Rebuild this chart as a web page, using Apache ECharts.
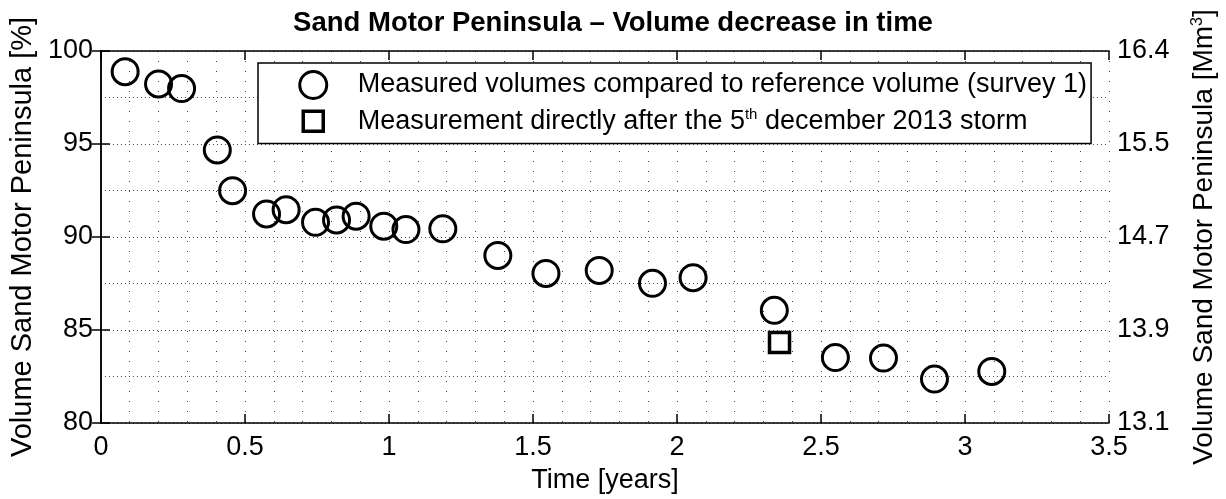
<!DOCTYPE html>
<html>
<head>
	<meta charset="utf-8">
	<title>Sand Motor Peninsula</title>
	<script src="https://cdn.jsdelivr.net/npm/echarts@6/dist/echarts.min.js"></script>
	<style>
		html,body{margin:0;padding:0;background:#fff;}
		#chart{width:1226px;height:499px;}
	</style>
</head>
<body>
	<div id="chart"></div>
<script type="text/javascript">
// measured volumes (survey 2..n) relative to survey 1
var timeYears=[0.084,0.20,0.28,0.404,0.457,0.575,0.643,0.745,0.818,0.886,0.982,1.059,1.187,
    1.378,1.545,1.730,1.915,2.056,2.338,2.55,2.717,2.894,3.093]
var volumePct=[98.89,98.23,97.98,94.68,92.49,91.24,91.47,90.79,90.92,91.12,90.58,90.40,90.44,
    89.01,88.04,88.20,87.51,87.81,86.06,83.52,83.49,82.36,82.77]
// survey right after the storm
var stormTime=[2.356]
var stormPct=[84.33]
// right axis labels (Mm3), same positions as 80..100 %
var rightTicks=['13.1','13.9','14.7','15.5','16.4']

var nameCircle='Measured volumes compared to reference volume (survey 1)'
var nameSquare='Measurement directly after the 5th december 2013 storm'

var font='Liberation Sans'
var dotV={color:'#444',width:1,type:[1,9]}
var dotH={color:'#444',width:1,type:[1,3]}
var axLine={lineStyle:{color:'#000',width:1.5}}
var tick={show:true,inside:true,length:9,lineStyle:{color:'#000',width:1.5}}

var option={
    animation:false,
    title:{
        text:'Sand Motor Peninsula \u2013 Volume decrease in time',
        left:'center',top:4,
        textStyle:{fontFamily:font,fontSize:27.5,fontWeight:'bold',color:'#000'}
    },
    legend:{
        orient:'vertical',left:258,top:63,
        padding:[7,4,7,40],itemGap:6,itemWidth:27,itemHeight:27,
        borderColor:'#000',borderWidth:1.5,backgroundColor:'#fff',
        textStyle:{fontFamily:font,fontSize:27,color:'#000',lineHeight:27,padding:[0,0,0,26],
            rich:{sup:{fontFamily:font,fontSize:15,lineHeight:15,verticalAlign:'top',color:'#000'}}},
        formatter:function(n){
            return n===nameSquare?'Measurement directly after the 5{sup|th} december 2013 storm':n
        },
        data:[
            {name:nameCircle,icon:'circle',itemStyle:{color:'rgba(0,0,0,0)',borderColor:'#000',borderWidth:3}},
            {name:nameSquare,icon:'path://M0,0M27,27M3.5,3.5L23.5,3.5L23.5,23.5L3.5,23.5Z',
                itemStyle:{color:'rgba(0,0,0,0)',borderColor:'#000',borderWidth:3.5}}
        ]
    },
    grid:{left:100,right:116,top:51,bottom:75},
    xAxis:[{
        type:'value',min:0,max:3.5,interval:0.5,position:'bottom',
        axisLine:axLine,axisTick:tick,
        axisLabel:{fontFamily:font,fontSize:27,color:'#000',margin:11},
        splitLine:{show:true,lineStyle:dotV},
        minorTick:{show:false,splitNumber:5},
        minorSplitLine:{show:true,lineStyle:dotV},
        name:'Time [years]',nameLocation:'middle',nameGap:44,
        nameTextStyle:{fontFamily:font,fontSize:27,color:'#000'}
    },{
        type:'value',min:0,max:3.5,interval:0.5,position:'top',
        axisLine:axLine,axisTick:tick,axisLabel:{show:false},splitLine:{show:false}
    }],
    yAxis:[{
        type:'value',min:80,max:100,interval:5,position:'left',
        axisLine:axLine,axisTick:tick,
        axisLabel:{fontFamily:font,fontSize:27,color:'#000',margin:8},
        splitLine:{show:true,lineStyle:dotH},
        minorTick:{show:false,splitNumber:2},
        minorSplitLine:{show:true,lineStyle:dotH},
        name:'Volume Sand Motor Peninsula [%]',nameLocation:'middle',nameGap:63,nameRotate:90,
        nameTextStyle:{fontFamily:font,fontSize:29,color:'#000'}
    },{
        type:'value',min:80,max:100,interval:5,position:'right',
        axisLine:axLine,axisTick:tick,splitLine:{show:false},
        axisLabel:{fontFamily:font,fontSize:27,color:'#000',margin:8,
            formatter:function(v){return rightTicks[Math.round((v-80)/5)]}},
        name:'Volume Sand Motor Peninsula [Mm{sup|3}]',nameLocation:'middle',nameGap:81,nameRotate:90,
        nameTextStyle:{fontFamily:font,fontSize:28,color:'#000',
            rich:{sup:{fontFamily:font,fontSize:16,lineHeight:16,verticalAlign:'top',color:'#000'}}}
    }],
    series:[{
        name:nameCircle,type:'scatter',symbol:'circle',symbolSize:26,
        itemStyle:{color:'rgba(0,0,0,0)',borderColor:'#000',borderWidth:3,opacity:1},
        emphasis:{disabled:true},
        data:timeYears.map(function(t,i){return [t,volumePct[i]]})
    },{
        name:nameSquare,type:'scatter',symbol:'rect',symbolSize:20,
        itemStyle:{color:'rgba(0,0,0,0)',borderColor:'#000',borderWidth:3.5,opacity:1},
        emphasis:{disabled:true},
        data:stormTime.map(function(t,i){return [t,stormPct[i]]})
    }]
}

var myChart=echarts.init(document.getElementById('chart'))
myChart.setOption(option)
</script>
</body>
</html>
